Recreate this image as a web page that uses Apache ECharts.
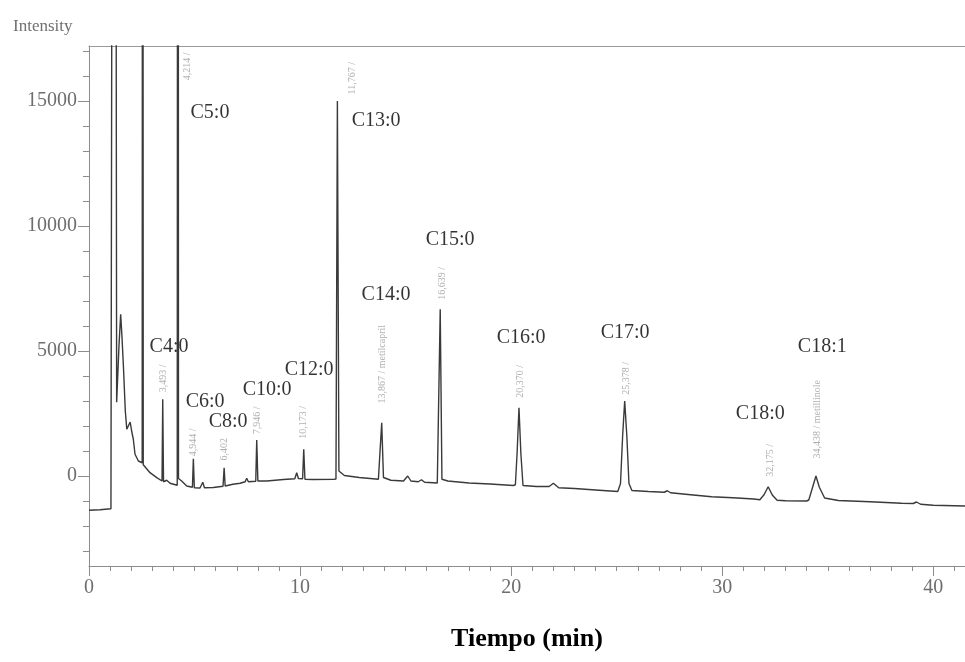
<!DOCTYPE html>
<html><head><meta charset="utf-8">
<script src="https://cdn.jsdelivr.net/npm/echarts@6/dist/echarts.min.js"></script>
<style>html,body{margin:0;padding:0;background:#fff}#c{width:965px;height:662px}</style>
</head><body><div id="c"></div>
<script>
// Retention time (min) and detector intensity
const timeMin = [0.00,0.52,1.04,1.20,1.31,1.42,1.50,1.56,1.63,1.72,1.79,1.86,1.95,2.02,2.10,2.18,2.34,2.52,2.54,2.57,2.65,2.89,3.21,3.46,3.493,3.53,3.68,3.84,4.18,4.214,4.24,4.39,4.63,4.90,4.944,4.99,5.26,5.39,5.47,5.89,6.35,6.402,6.45,6.82,7.16,7.40,7.47,7.55,7.90,7.946,8.00,8.42,9.21,9.75,9.84,9.92,10.12,10.173,10.23,10.60,11.58,11.70,11.767,11.84,12.10,12.80,13.71,13.80,13.867,13.95,14.30,14.90,15.10,15.25,15.60,15.75,15.90,16.50,16.58,16.639,16.72,17.00,18.00,19.00,20.10,20.20,20.28,20.370,20.46,20.56,21.20,21.80,22.00,22.25,23.00,24.00,25.05,25.18,25.28,25.378,25.48,25.58,25.72,26.50,27.25,27.40,27.55,28.50,29.50,30.50,31.50,31.78,31.98,32.175,32.37,32.60,33.00,34.00,34.10,34.28,34.438,34.60,34.85,35.50,37.00,38.50,39.05,39.20,39.40,40.00,41.50];
const intensity = [-1370,-1350,-1310,80000,2950,5200,6470,5600,4400,2600,1870,1950,2160,1800,1470,870,600,530,60000,450,400,133,-67,-200,3070,-230,-170,-290,-370,70000,-100,-200,-400,-450,690,-470,-480,-250,-470,-460,-410,330,-400,-330,-290,-230,-90,-230,-210,1440,-200,-200,-140,-110,130,-100,-110,1070,-130,-140,-133,-120,15000,200,20,-60,-130,-140,2130,-60,-170,-200,0,-200,-230,-150,-250,-280,-290,6670,-130,-200,-280,-320,-380,-350,900,2730,900,-380,-420,-420,-290,-470,-500,-560,-620,-300,1600,3000,1600,-300,-580,-620,-650,-590,-670,-750,-830,-870,-920,-950,-750,-430,-760,-970,-990,-1000,-960,-450,0,-450,-880,-980,-1030,-1090,-1100,-1040,-1130,-1170,-1200];

// Compound labels and their anchor (time, intensity)
const peakNames = ['C4:0','C5:0','C6:0','C8:0','C10:0','C12:0','C13:0','C14:0','C15:0','C16:0','C17:0','C18:0','C18:1'];
const peakNameTime = [3.79,5.73,5.50,6.59,8.44,10.43,13.60,14.07,17.11,20.47,25.40,31.80,34.74];
const peakNameInt = [5190,14530,2990,2190,3470,4270,14230,7270,9470,5550,5750,2510,5190];

// Integrator retention-time annotations
const rtLabels = ['3,493 /','4,214 /','4,944 /','6,402','7,946 /','10,173 /','11,767 /','13,867 / metilcapril','16,639 /','20,370 /','25,378 /','32,175 /','34,438 / metillinole'];
const rtLabelTime = [3.51,4.68,4.93,6.40,7.96,10.14,12.50,13.89,16.73,20.43,25.45,32.27,34.50];
const rtLabelInt = [3910,16390,1350,1070,2230,2150,15910,4470,7710,3790,3910,630,2270];

// Axis ticks
const yLabelValues = [0,5000,10000,15000];
const yMinorValues = [-3000,-2000,-1000,0,1000,2000,3000,4000,5000,6000,7000,8000,9000,10000,11000,12000,13000,14000,15000,16000,17000];
const xLabelValues = [0,10,20,30,40];
const xMinorValues = [0,1,2,3,4,5,6,7,8,9,10,11,12,13,14,15,16,17,18,19,20,21,22,23,24,25,26,27,28,29,30,31,32,33,34,35,36,37,38,39,40,41];

const Y_MIN = -3600, Y_MAX = 17200, X_MIN = 0, X_MAX = 41.5;
const SERIF = "'Liberation Serif','Times New Roman',serif";
const AXIS_COLOR = '#8c8c8c';
const LABEL_COLOR = '#6e6e6e';

const chart = echarts.init(document.getElementById('c'), null, {renderer:'canvas'});
const lineData = timeMin.map((t,i)=>[t,intensity[i]]);
const nameData = peakNames.map((n,i)=>({name:n,value:[peakNameTime[i],peakNameInt[i]]}));
const rtData = rtLabels.map((n,i)=>({name:n,value:[rtLabelTime[i],rtLabelInt[i]]}));

chart.setOption({
  animation:false,
  backgroundColor:'#fff',
  title:{text:'Intensity',left:8,top:13,textStyle:{fontFamily:SERIF,fontSize:17,fontWeight:'normal',color:'#707070'}},
  grid:{left:89,right:0,top:46,bottom:96,containLabel:false},
  xAxis:[
    {type:'value',position:'bottom',min:X_MIN,max:X_MAX,
     axisLine:{show:true,onZero:false,lineStyle:{color:AXIS_COLOR,width:1}},
     axisTick:{show:true,length:10,customValues:xLabelValues,lineStyle:{color:AXIS_COLOR}},
     axisLabel:{show:true,customValues:xLabelValues,margin:12,fontFamily:SERIF,fontSize:20,color:LABEL_COLOR,formatter:v=>String(v)},
     splitLine:{show:false},
     name:'Tiempo (min)',nameLocation:'middle',nameGap:60,
     nameTextStyle:{fontFamily:SERIF,fontSize:26,fontWeight:'bold',color:'#000'}},
    {type:'value',position:'bottom',min:X_MIN,max:X_MAX,
     axisLine:{show:false,onZero:false},
     axisTick:{show:true,length:5,customValues:xMinorValues,lineStyle:{color:AXIS_COLOR}},
     axisLabel:{show:false},splitLine:{show:false}},
    {type:'value',position:'top',min:X_MIN,max:X_MAX,
     axisLine:{show:true,onZero:false,lineStyle:{color:'#9a9a9a',width:1.2}},
     axisTick:{show:false},axisLabel:{show:false},splitLine:{show:false}}
  ],
  yAxis:[
    {type:'value',position:'left',min:Y_MIN,max:Y_MAX,
     axisLine:{show:true,onZero:false,lineStyle:{color:AXIS_COLOR,width:1}},
     axisTick:{show:true,length:11,customValues:yLabelValues,lineStyle:{color:AXIS_COLOR}},
     axisLabel:{show:true,customValues:yLabelValues,margin:12,fontFamily:SERIF,fontSize:20,color:LABEL_COLOR,formatter:v=>String(v)},
     splitLine:{show:false}},
    {type:'value',position:'left',min:Y_MIN,max:Y_MAX,
     axisLine:{show:false,onZero:false},
     axisTick:{show:true,length:6,customValues:yMinorValues,lineStyle:{color:AXIS_COLOR}},
     axisLabel:{show:false},splitLine:{show:false}}
  ],
  series:[
    {type:'line',xAxisIndex:0,yAxisIndex:0,data:lineData,showSymbol:false,symbol:'none',clip:true,silent:true,
     lineStyle:{color:'#3a3a3a',width:1.4}},
    {type:'scatter',xAxisIndex:0,yAxisIndex:0,data:nameData,symbolSize:0,silent:true,
     label:{show:true,formatter:p=>p.name,position:[0,0],align:'center',verticalAlign:'middle',
            fontFamily:SERIF,fontSize:20,color:'#000'}},
    {type:'scatter',xAxisIndex:0,yAxisIndex:0,data:rtData,symbolSize:0,silent:true,
     label:{show:true,formatter:p=>p.name,position:[0,0],align:'center',verticalAlign:'middle',rotate:90,
            fontFamily:SERIF,fontSize:10,color:'#9a9a9a'}}
  ]
});
</script></body></html>
